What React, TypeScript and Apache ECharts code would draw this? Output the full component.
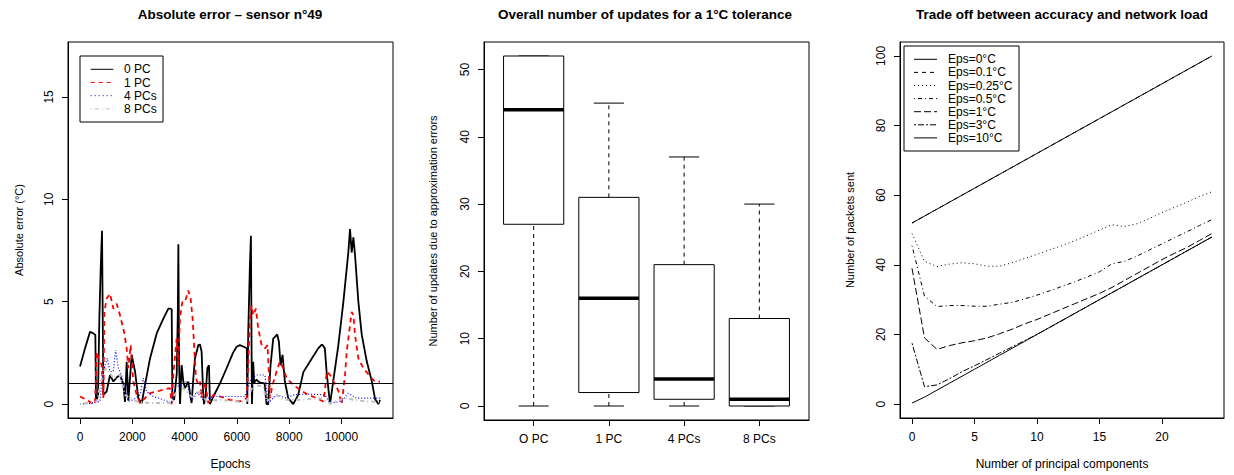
import React, { useEffect, useRef } from "react";
import * as echarts from "echarts";

// ---------- Panel 1: absolute error, sensor 49 ----------
const epochTicks = [0, 2000, 4000, 6000, 8000, 10000];
const errorTicks = [0, 5, 10, 15];
const toleranceLine = 1;

const pc0: [number, number][] = [
  [0, 1.83], [191, 2.72], [382, 3.53], [510, 3.45], [586, 3.37], [612, 0.1], [688, 0.45], [739, 4.17],
  [790, 6.6], [841, 8.46], [893, 0.45], [1020, 0.62], [1147, 1.42], [1275, 1.1], [1400, 1.3], [1530, 1.42],
  [1657, 0.94], [1721, 0.1], [1785, 2.07], [1849, 0.16], [1976, 2.4], [2104, 1.59], [2231, 0.29], [2359, 0.05],
  [2486, 0.94], [2677, 2.23], [2932, 3.45], [3187, 4.17], [3378, 4.66], [3442, 4.66], [3506, 4.63], [3531, 0.3],
  [3600, 0.2], [3700, 1.5], [3740, 4.5], [3761, 7.8], [3790, 2], [3825, 0], [3888, 1.9], [3950, 1.1],
  [4013, 0.78], [4141, 1.1], [4230, 0.3], [4268, 0.05], [4330, 1.2], [4395, 2.23], [4525, 2.88], [4587, 2.91],
  [4650, 2.56], [4700, 0.8], [4739, 0], [4800, 0.3], [4869, 1.75], [4932, 1.9], [4970, 0], [5100, 0.37],
  [5350, 1.0], [5605, 1.75], [5850, 2.5], [5988, 2.8], [6115, 2.88], [6345, 2.75], [6380, 2.7], [6396, 0],
  [6434, 3.53], [6497, 6.76], [6536, 8.22], [6574, 0], [6625, 2.07], [6660, 1.0], [6689, 1.1], [6750, 1.2],
  [6816, 1.1], [6900, 1.05], [7007, 1.02], [7060, 1.0], [7134, 0], [7198, 0], [7287, 1.9], [7389, 3.2],
  [7453, 3.28], [7542, 3.4], [7606, 3.04], [7670, 1.9], [7746, 2.4], [7835, 1.1], [7963, 0.29], [8154, 0],
  [8345, 0.45], [8541, 1.56], [8860, 2.21], [9110, 2.72], [9244, 2.9], [9275, 2.88], [9364, 2.72], [9435, 1.5],
  [9562, 0], [9682, 1.1], [9880, 2.88], [10071, 4.98], [10262, 7.41], [10326, 8.54], [10390, 7.4], [10454, 8.14],
  [10518, 7.27], [10645, 5.0], [10773, 3.4], [10964, 2.1], [11156, 1.13], [11283, 0.25], [11410, 0], [11474, 0.2],
];

const pc1: [number, number][] = [
  [0, 0.37], [255, 0.21], [446, 0.05], [573, 0], [637, 2.56], [700, 2.23], [828, 1.9], [892, 0.29],
  [930, 4.5], [1019, 5.15], [1147, 5.39], [1274, 4.66], [1401, 4.9], [1529, 4.34], [1682, 3.53], [1784, 2.72],
  [1847, 1.75], [1936, 2.88], [2038, 1.1], [2166, 0.45], [2293, 0.05], [2421, 0.21], [2675, 0.53], [2930, 0.61],
  [3185, 0.7], [3440, 0.78], [3504, 0], [3567, 1.42], [3695, 3.2], [3759, 1.9], [3822, 4.17], [3911, 4.98],
  [4013, 4.98], [4141, 5.55], [4230, 5.15], [4306, 4.17], [4370, 2.72], [4434, 1.26], [4523, 0.94], [4587, 1.1],
  [4650, 0.29], [4778, 1.1], [4905, 0.05], [5096, 0.45], [5351, 0.37], [5733, 0.21], [6115, 0.13], [6370, 0.29],
  [6434, 1.9], [6497, 4.17], [6561, 4.82], [6625, 4.34], [6727, 4.66], [6816, 3.69], [6944, 2.88], [7071, 2.72],
  [7173, 2.88], [7262, 0.29], [7364, 0.94], [7517, 1.59], [7644, 2.07], [7772, 1.75], [7900, 1.26], [8154, 0.94],
  [8409, 0.7], [8727, 0.45], [9046, 0.29], [9301, 0.13], [9364, 0.61], [9435, 1.59], [9562, 1.42], [9753, 0.97],
  [9880, 0.65], [10008, 0], [10135, 1.42], [10199, 2.56], [10326, 3.85], [10390, 4.5], [10454, 4.34], [10518, 3.37],
  [10645, 2.23], [10836, 1.75], [11156, 1.26], [11283, 1.1], [11474, 1.1],
];

const pc4: [number, number][] = [
  [0, 0], [510, 0.05], [764, 0.13], [828, 1.1], [955, 1.9], [1045, 2.23], [1147, 1.59], [1274, 1.59],
  [1363, 2.64], [1465, 1.75], [1593, 1.42], [1720, 0.78], [1847, 0.13], [2038, 0.21], [2293, 0.45], [2421, 1.26],
  [2548, 0.61], [2803, 0.37], [3185, 0.21], [3504, 0.05], [3631, 0.78], [3822, 0.94], [4077, 1.1], [4268, 0.13],
  [4459, 0.61], [4714, 0.21], [5096, 0.37], [5733, 0.37], [6306, 0.37], [6561, 1.26], [6752, 1.42], [7071, 1.42],
  [7198, 0.05], [7517, 0.45], [7900, 0.29], [8154, 0.45], [8663, 0.49], [9364, 0.45], [9555, 0.05], [10001, 0.13],
  [10256, 0.53], [10575, 0.29], [10957, 0.29], [11504, 0.29],
];

const pc8: [number, number][] = [
  [0, 0], [637, 0.13], [892, 1.59], [1019, 1.75], [1274, 1.26], [1529, 1.42], [1720, 0.45], [1911, 0.29],
  [2166, 0.13], [2675, 0.05], [3440, 0.05], [3695, 0.61], [3950, 0.78], [4332, 0.29], [4587, 0.61], [4841, 0.13],
  [5351, 0.21], [5861, 0.13], [6370, 0.13], [6625, 0.94], [7007, 0.86], [7134, 0.13], [7517, 0.45], [7772, 0.21],
  [8409, 0.21], [9173, 0.29], [9555, 0.05], [10192, 0.29], [10447, 0.21], [10957, 0.13], [11504, 0.1],
];

// ---------- Panel 2: boxplots ----------
const boxCategories = ["O PC", "1 PC", "4 PCs", "8 PCs"];
const boxMin = [0, 0, 0, 0];
const boxQ1 = [27, 2, 1, 0];
const boxMedian = [44, 16, 4, 1];
const boxQ3 = [52, 31, 21, 13];
const boxMax = [52, 45, 37, 30];
const updateTicks = [0, 10, 20, 30, 40, 50];

// ---------- Panel 3: trade off ----------
const components = [0, 1, 2, 3, 4, 5, 6, 7, 8, 9, 10, 11, 12, 13, 14, 15, 16, 17, 18, 19, 20, 21, 22, 23, 24];
const componentTicks = [0, 5, 10, 15, 20];
const packetTicks = [0, 20, 40, 60, 80, 100];
const eps0 = [52, 54, 56, 58, 60, 62, 64, 66, 68, 70, 72, 74, 76, 78, 80, 82, 84, 86, 88, 90, 92, 94, 96, 98, 100];
const eps01 = [52, 54, 56, 58, 60, 62, 64, 66, 68, 70, 72, 74, 76, 78, 80, 82, 84, 86, 88, 90, 92, 94, 96, 98, 100];
const eps025 = [49, 41, 39.5, 40.2, 40.6, 40.3, 39.6, 39.6, 40.6, 41.8, 43, 44.3, 45.5, 46.9, 48.4, 50, 51.5, 51, 51.8, 53.3, 55, 56.5, 58, 59.6, 61];
const eps05 = [45.5, 31, 28, 28.3, 28.3, 28.1, 28.1, 28.7, 29.2, 30.2, 31.3, 32.5, 33.8, 35.1, 36.5, 38, 40.3, 41, 42.5, 44.3, 46, 47.8, 49.5, 51.3, 53];
const eps1 = [39, 19, 15.7, 16.8, 17.6, 18.2, 19, 20.2, 21.5, 23, 24.3, 25.8, 27.3, 28.8, 30.3, 31.8, 33.5, 35.5, 37.5, 39.5, 41.5, 43.3, 45, 47, 49];
const eps3 = [17.5, 5, 5.5, 7.3, 9.3, 11, 12.8, 14.6, 16.4, 18.2, 20, 22, 24, 26, 28, 30, 32, 34, 36, 38, 40, 42, 44, 46, 48];
const eps10 = [0.3, 2, 4, 6, 8, 10, 12, 14, 16, 18, 20, 22, 24, 26, 28, 30, 32, 34, 36, 38, 40, 42, 44, 46, 48];

const leftLegend = [
  { name: "0 PC", color: "#000000", dash: "solid" as any },
  { name: "1 PC", color: "#FF0000", dash: [4, 4] },
  { name: "4 PCs", color: "#0000FF", dash: [1, 3] },
  { name: "8 PCs", color: "#BEBEBE", dash: [1, 3, 4, 3] },
];

const rightLegend = [
  { name: "Eps=0°C", values: eps0, dash: "solid" as any },
  { name: "Eps=0.1°C", values: eps01, dash: [4, 4] },
  { name: "Eps=0.25°C", values: eps025, dash: [1, 3] },
  { name: "Eps=0.5°C", values: eps05, dash: [1, 3, 4, 3] },
  { name: "Eps=1°C", values: eps1, dash: [7, 3] },
  { name: "Eps=3°C", values: eps3, dash: [2, 2, 6, 2] },
  { name: "Eps=10°C", values: eps10, dash: "solid" as any },
];

const FONT = "'Liberation Sans', Arial, Helvetica, sans-serif";

function valueAxis(gridIndex: number, min: number, max: number, ticks: number[], isY: boolean, name: string, nameGap: number, formatter?: (v: number) => string) {
  return {
    type: "value",
    gridIndex,
    min,
    max,
    name,
    nameLocation: "middle",
    nameGap,
    nameTextStyle: { fontSize: isY ? 11 : 12, color: "#000", fontFamily: FONT },
    splitLine: { show: false },
    axisLine: { show: true, onZero: false, lineStyle: { color: "#000", width: 1 } },
    axisTick: { show: true, inside: false, length: 6, customValues: ticks, lineStyle: { color: "#000", width: 1 } },
    axisLabel: {
      show: true,
      customValues: ticks,
      rotate: isY ? 90 : 0,
      margin: 13,
      fontSize: 12,
      color: "#000",
      fontFamily: FONT,
      formatter: formatter ?? ((v: number) => String(v)),
    },
  };
}

function legendGraphic(x: number, y: number, w: number, h: number, firstY: number, step: number, lx1: number, lx2: number, tx: number, items: { name: string; color: string; dash: any }[]) {
  const children: any[] = [
    { type: "rect", shape: { x, y, width: w, height: h }, style: { fill: "#fff", stroke: "#000", lineWidth: 1 } },
  ];
  items.forEach((it, i) => {
    const yy = firstY + i * step;
    children.push({
      type: "line",
      shape: { x1: lx1, y1: yy, x2: lx2, y2: yy },
      style: { stroke: it.color, lineWidth: 1, lineDash: it.dash === "solid" ? null : it.dash },
    });
    children.push({
      type: "text",
      x: tx,
      y: yy,
      style: { text: it.name, fill: "#000", font: `12px ${FONT}`, textAlign: "left", textVerticalAlign: "middle" },
    });
  });
  return { type: "group", children };
}

export default function App() {
  const ref = useRef<HTMLDivElement>(null);
  useEffect(() => {
    if (!ref.current) return;
    const chart = echarts.init(ref.current, undefined, { renderer: "svg" });

    const boxData = boxCategories.map((_, i) => [i + 1, boxMin[i], boxQ1[i], boxMedian[i], boxQ3[i], boxMax[i]]);
    const titleStyle = { fontSize: 13.5, fontWeight: "bold", color: "#000", fontFamily: FONT };

    const option: any = {
      animation: false,
      backgroundColor: "#ffffff",
      textStyle: { fontFamily: FONT },
      title: [
        { text: "Absolute error – sensor n°49", left: 230, top: 7, textAlign: "center", padding: 0, textStyle: titleStyle },
        { text: "Overall number of updates for a 1°C tolerance", left: 645, top: 7, textAlign: "center", padding: 0, textStyle: titleStyle },
        { text: "Trade off between accuracy and network load", left: 1062, top: 7, textAlign: "center", padding: 0, textStyle: titleStyle },
      ],
      grid: [
        { left: 68, top: 42, width: 325, height: 377, show: true, borderColor: "#000", borderWidth: 1, backgroundColor: "transparent", containLabel: false },
        { left: 484, top: 42, width: 325, height: 378, show: true, borderColor: "#000", borderWidth: 1, backgroundColor: "transparent", containLabel: false },
        { left: 900, top: 42, width: 324, height: 377, show: true, borderColor: "#000", borderWidth: 1, backgroundColor: "transparent", containLabel: false },
      ],
      xAxis: [
        valueAxis(0, -460, 11970, epochTicks, false, "Epochs", 40),
        valueAxis(1, 0.34, 4.66, [1, 2, 3, 4], false, "", 40, (v: number) => boxCategories[Math.round(v) - 1] ?? ""),
        valueAxis(2, -0.96, 24.96, componentTicks, false, "Number of principal components", 40),
      ],
      yAxis: [
        valueAxis(0, -0.68, 17.68, errorTicks, true, "Absolute error (°C)", 44),
        valueAxis(1, -2.08, 54.08, updateTicks, true, "Number of updates due to approximation errors", 46),
        valueAxis(2, -4, 104, packetTicks, true, "Number of packets sent", 45),
      ],
      series: [
        {
          type: "line", name: "0 PC", xAxisIndex: 0, yAxisIndex: 0, data: pc0, symbol: "none", clip: true,
          lineStyle: { color: "#000", width: 1.8, type: "solid" },
          markLine: {
            silent: true, symbol: ["none", "none"], label: { show: false },
            lineStyle: { color: "#000", width: 1, type: "solid" },
            data: [{ yAxis: toleranceLine }],
          },
        },
        { type: "line", name: "1 PC", xAxisIndex: 0, yAxisIndex: 0, data: pc1, symbol: "none", clip: true, lineStyle: { color: "#FF0000", width: 1.8, type: [5, 4] } },
        { type: "line", name: "4 PCs", xAxisIndex: 0, yAxisIndex: 0, data: pc4, symbol: "none", clip: true, lineStyle: { color: "#0000FF", width: 1.2, type: [1, 2] } },
        { type: "line", name: "8 PCs", xAxisIndex: 0, yAxisIndex: 0, data: pc8, symbol: "none", clip: true, lineStyle: { color: "#BEBEBE", width: 2, type: [1, 3, 4, 3] } },
        {
          type: "custom",
          xAxisIndex: 1,
          yAxisIndex: 1,
          data: boxData,
          encode: { x: 0, y: [1, 2, 3, 4, 5] },
          renderItem: (params: any, api: any) => {
            const x = api.value(0);
            const lo = api.coord([x, api.value(1)]);
            const q1 = api.coord([x, api.value(2)]);
            const med = api.coord([x, api.value(3)]);
            const q3 = api.coord([x, api.value(4)]);
            const hi = api.coord([x, api.value(5)]);
            const half = api.size([0.4, 0])[0];
            const cap = api.size([0.2, 0])[0];
            const cx = lo[0];
            const dashed = { stroke: "#000", lineWidth: 1, lineDash: [4, 4], fill: null };
            const solid = { stroke: "#000", lineWidth: 1, fill: null };
            return {
              type: "group",
              children: [
                { type: "line", shape: { x1: cx, y1: q3[1], x2: cx, y2: hi[1] }, style: dashed },
                { type: "line", shape: { x1: cx, y1: lo[1], x2: cx, y2: q1[1] }, style: dashed },
                { type: "line", shape: { x1: cx - cap, y1: hi[1], x2: cx + cap, y2: hi[1] }, style: solid },
                { type: "line", shape: { x1: cx - cap, y1: lo[1], x2: cx + cap, y2: lo[1] }, style: solid },
                { type: "rect", shape: { x: cx - half, y: q3[1], width: 2 * half, height: q1[1] - q3[1] }, style: { fill: "#fff", stroke: "#000", lineWidth: 1 } },
                { type: "line", shape: { x1: cx - half, y1: med[1], x2: cx + half, y2: med[1] }, style: { stroke: "#000", lineWidth: 3.5 } },
              ],
            };
          },
        },
        ...rightLegend.map((r) => ({
          type: "line",
          name: r.name,
          xAxisIndex: 2,
          yAxisIndex: 2,
          data: components.map((c, i) => [c, r.values[i]]),
          symbol: "none",
          clip: true,
          lineStyle: { color: "#000", width: 1, type: r.dash },
          z: r.name === "Eps=0.1°C" ? 1 : 2,
        })),
      ],
      graphic: [
        legendGraphic(80, 56, 83, 66, 69.3, 13.2, 90.7, 113.3, 124, leftLegend),
        legendGraphic(904, 46, 115, 105, 59.3, 13.1, 914, 937, 948, rightLegend.map((r) => ({ name: r.name, color: "#000", dash: r.dash }))),
      ],
    };

    chart.setOption(option);
    return () => chart.dispose();
  }, []);

  return <div ref={ref} style={{ position: "fixed", left: 0, top: 0, width: 1234, height: 475, background: "#fff" }} />;
}
